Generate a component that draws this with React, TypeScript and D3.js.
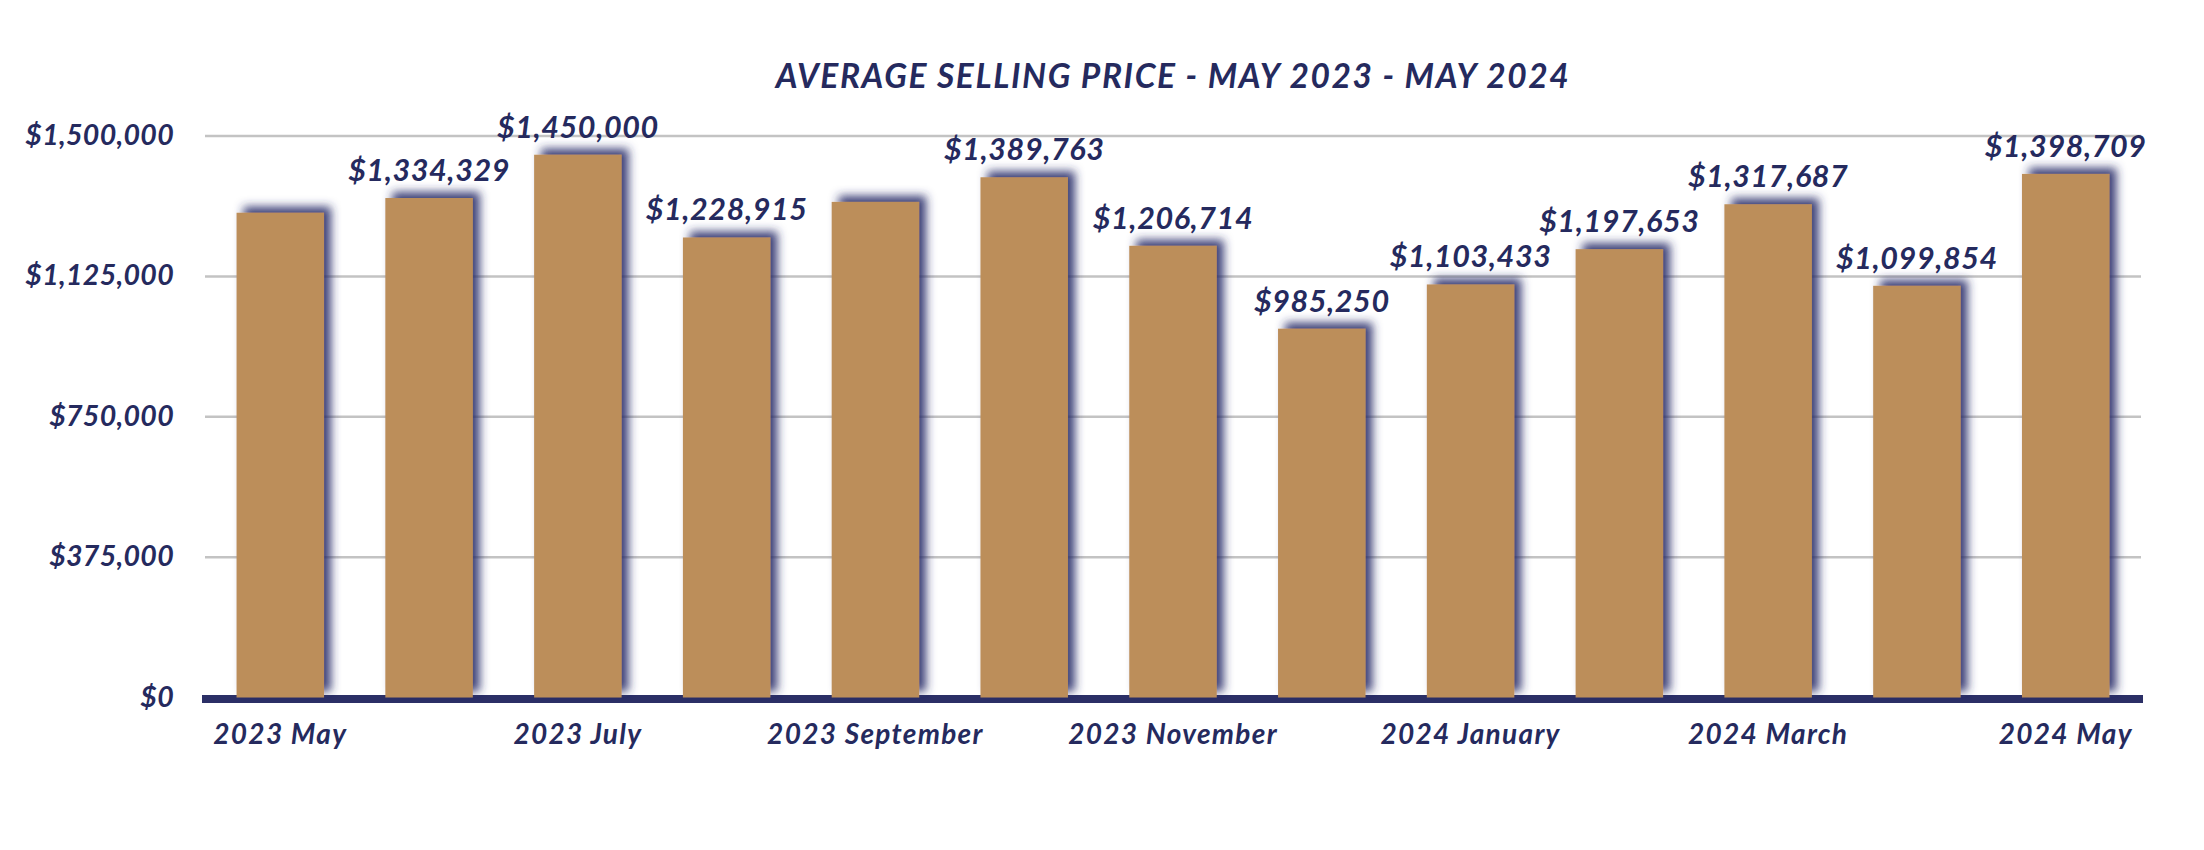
import React from "react";
import * as d3 from "d3";

const categories = [
  "2023 May", "2023 June", "2023 July", "2023 August", "2023 September", "2023 October",
  "2023 November", "2023 December", "2024 January", "2024 February", "2024 March", "2024 April", "2024 May",
];
const prices = [1295000, 1334329, 1450000, 1228915, 1324000, 1389763, 1206714, 985250, 1103433, 1197653, 1317687, 1099854, 1398709];
const showValueLabel = [false, true, true, true, false, true, true, true, true, true, true, true, true];
const shownTickLabels = ["2023 May", "2023 July", "2023 September", "2023 November", "2024 January", "2024 March", "2024 May"];
const yTicks = [0, 375000, 750000, 1125000, 1500000];
const title = "AVERAGE SELLING PRICE - MAY 2023 - MAY 2024";

const W = 2204;
const H = 850;
const NAVY = "#252a5e";
const BAR = "#bc8e5a";
const FONT = "Lato, 'Open Sans', sans-serif";

export default function App() {
  const left = 203;
  const right = 2143;
  const y0 = 697.5;
  const yTop = 136;

  const x = d3.scaleBand<string>().domain(categories).range([left, right]).paddingInner(0.412).paddingOuter(0.2255);
  const y = d3.scaleLinear().domain([0, 1500000]).range([y0, yTop]);
  const money = (v: number) => "$" + d3.format(",")(v);

  return (
    <svg width={W} height={H} style={{ position: "absolute", left: 0, top: 0, background: "#fff" }} fontFamily={FONT}>
      <defs>
        <filter id="barShadow" x="-30%" y="-10%" width="160%" height="120%">
          <feDropShadow dx="7" dy="-6" stdDeviation="5" floodColor="#2a2f6a" floodOpacity="0.9" />
        </filter>
      </defs>
      <text x={(left + right) / 2} y={88} textAnchor="middle" fontSize={33.5} fontWeight={700} fontStyle="italic" fill={NAVY} letterSpacing={1.6}>
        {title}
      </text>
      {yTicks.filter((t) => t > 0).map((t) => (
        <line key={"g" + t} x1={left + 2} x2={right - 2} y1={y(t)} y2={y(t)} stroke="#c3c3c3" strokeWidth={2.5} />
      ))}
      {yTicks.map((t) => (
        <text key={"yl" + t} x={174} y={y(t) + 9} textAnchor="end" fontSize={28.5} fontWeight={700} fontStyle="italic" fill={NAVY} letterSpacing={0.3}>
          {money(t)}
        </text>
      ))}
      <line x1={left - 1} x2={right} y1={y0 + 1.5} y2={y0 + 1.5} stroke="#2b2f66" strokeWidth={8} />
      {categories.map((c, i) => (
        <rect key={"b" + c} x={x(c)} y={y(prices[i])} width={x.bandwidth()} height={y0 - y(prices[i])} fill={BAR} filter="url(#barShadow)" />
      ))}
      {categories.map((c, i) =>
        showValueLabel[i] ? (
          <text key={"v" + c} x={(x(c) as number) + x.bandwidth() / 2} y={y(prices[i]) - 17} textAnchor="middle" fontSize={30.5} fontWeight={700} fontStyle="italic" fill={NAVY} letterSpacing={0.6}>
            {money(prices[i])}
          </text>
        ) : null
      )}
      {shownTickLabels.map((c) => (
        <text key={"x" + c} x={(x(c) as number) + x.bandwidth() / 2} y={744} textAnchor="middle" fontSize={28} fontWeight={700} fontStyle="italic" fill={NAVY} letterSpacing={1.3}>
          {c}
        </text>
      ))}
    </svg>
  );
}
